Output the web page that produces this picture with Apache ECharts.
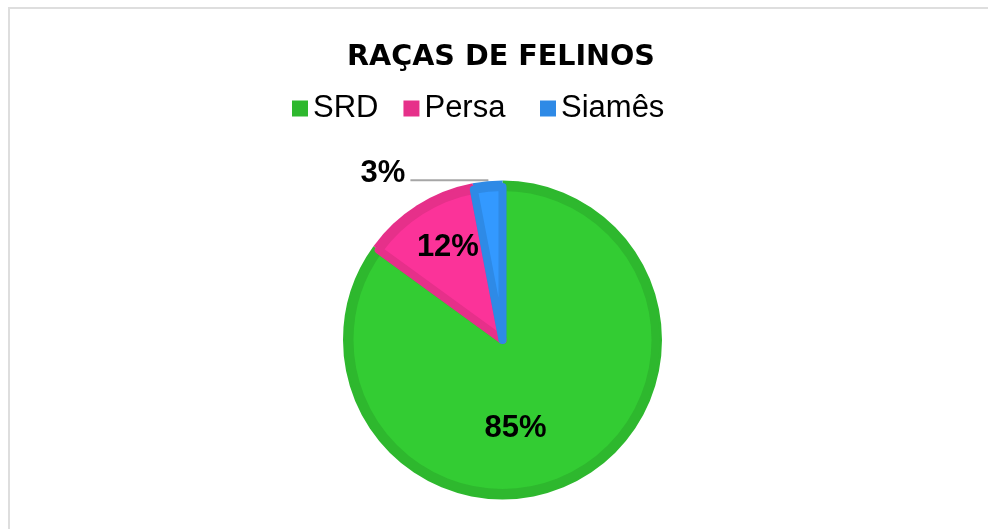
<!DOCTYPE html>
<html>
<head>
<meta charset="utf-8">
<script src="https://cdn.jsdelivr.net/npm/echarts@6/dist/echarts.min.js"></script>
<style>
  html, body { margin: 0; padding: 0; background: #fff; }
  #wrap { position: relative; width: 988px; height: 529px; overflow: hidden; }
  #chart { position: absolute; left: 0; top: 0; width: 988px; height: 529px; }
  #frame { position: absolute; left: 8px; top: 7px; width: 990px; height: 530px;
           border-top: 2px solid #dedede; border-left: 2px solid #dedede; pointer-events: none; }
</style>
</head>
<body>
<div id="wrap">
  <div id="chart"></div>
  <div id="frame"></div>
</div>
<script>
// ---- data ----
const titleText = 'RAÇAS DE FELINOS';
const categories = ['SRD', 'Persa', 'Siamês'];
const values = [85, 12, 3];

// ---- styles ----
const fillColors = ['#33cc33', '#fb3399', '#3399ff'];
const edgeColors = ['#2eb82e', '#e6308a', '#2e8ae6'];
// label nudges: horizontal via padding, vertical via an invisible spacer line
const labelPadRight = [46, 24, 0];
const labelFormats = ['{sp36| }\n{d}%', '{d}%\n{sp51| }', '{d}%\n{sp14| }'];

const spacer = (h) => ({ fontSize: 1, height: h, lineHeight: h });
const labelRich = { sp36: spacer(36), sp51: spacer(51), sp14: spacer(14) };

const legendFont = { fontFamily: 'Liberation Sans, Arial', fontSize: 31, color: '#000' };

const chart = echarts.init(document.getElementById('chart'), null, { renderer: 'canvas' });

const center = [502.5, 340];

const ringData = categories.map((name, i) => ({
  name: name,
  value: values[i],
  itemStyle: { color: edgeColors[i] },
  label: { show: i === 2, formatter: labelFormats[i] }
}));

const fillData = categories.map((name, i) => ({
  name: name,
  value: values[i],
  itemStyle: { color: fillColors[i], borderColor: edgeColors[i] },
  label: { show: i !== 2, formatter: labelFormats[i], padding: [0, labelPadRight[i], 0, 0] }
}));

const labelFont = {
  fontFamily: 'Liberation Sans, Arial',
  fontWeight: 'bold',
  fontSize: 31,
  color: '#000'
};

const legendBase = {
  top: 93,
  padding: 0,
  icon: 'rect',
  itemWidth: 16,
  itemHeight: 16,
  itemGap: 25,
  textStyle: legendFont
};

const option = {
  animation: false,
  backgroundColor: '#ffffff',
  title: {
    text: titleText,
    left: 496,
    textAlign: 'center',
    top: 38,
    textStyle: { fontFamily: 'DejaVu Sans', fontWeight: 'bold', fontSize: 28.6, color: '#000' }
  },
  legend: [
    Object.assign({ data: categories.slice(0, 2), left: 292 }, legendBase),
    Object.assign({ data: categories.slice(2), left: 540 }, legendBase)
  ],
  series: [
    {
      type: 'pie',
      name: 'ring',
      center: center,
      radius: 159.5,
      startAngle: 90,
      clockwise: true,
      avoidLabelOverlap: false,
      silent: true,
      percentPrecision: 0,
      data: ringData,
      label: Object.assign({
        position: 'outside',
        distanceToLabelLine: 5,
        rich: labelRich
      }, labelFont),
      labelLine: {
        show: true,
        length: 1,
        length2: 77,
        smooth: false,
        lineStyle: { color: '#a6a6a6', width: 2 }
      }
    },
    {
      type: 'pie',
      name: 'fill',
      center: center,
      radius: 153,
      startAngle: 90,
      clockwise: true,
      avoidLabelOverlap: false,
      silent: true,
      percentPrecision: 0,
      data: fillData,
      itemStyle: { borderWidth: 8 },
      label: Object.assign({
        position: 'inside',
        rich: labelRich
      }, labelFont),
      labelLine: { show: false }
    }
  ]
};

chart.setOption(option);
</script>
</body>
</html>
